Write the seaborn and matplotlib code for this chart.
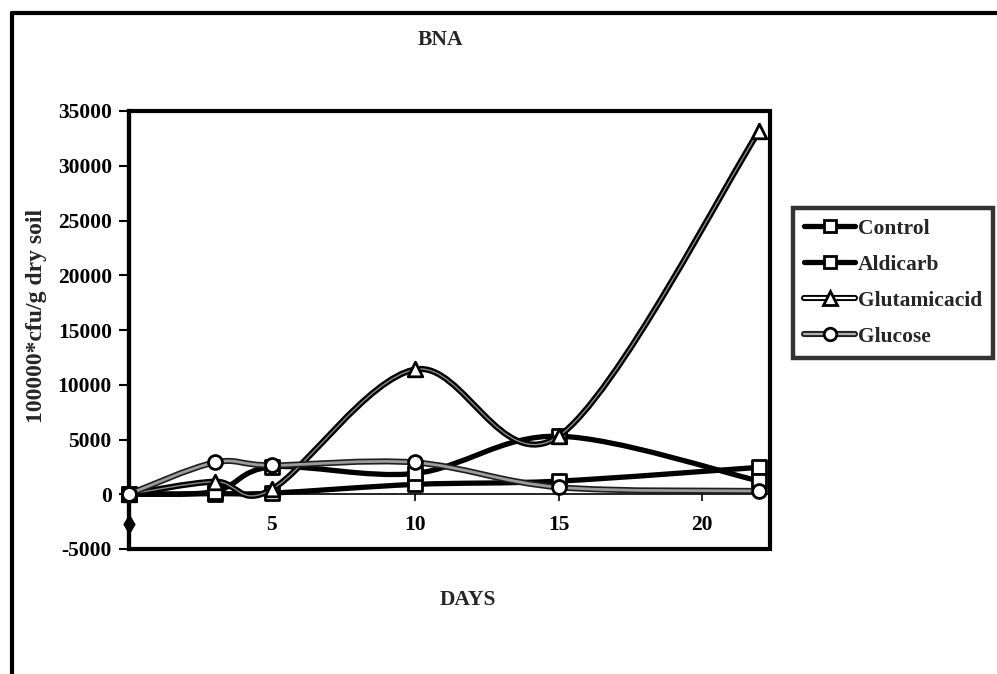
import numpy as np
import pandas as pd
import matplotlib
matplotlib.use("Agg")
import matplotlib.pyplot as plt
import seaborn as sns
from matplotlib.path import Path
from matplotlib.patches import PathPatch, Rectangle
from matplotlib.lines import Line2D
from matplotlib.legend_handler import HandlerTuple

# ---------------- data ----------------
days = [0, 3, 5, 10, 15, 22]
control = [0, 50, 100, 900, 1200, 2460]
aldicarb = [0, 250, 2500, 1900, 5300, 1200]
glutamic_acid = [0, 1150, 450, 11400, 5300, 33200]
glucose = [0, 2900, 2640, 2900, 640, 300]
series_names = ["Control", "Aldicarb", "Glutamicacid", "Glucose"]
stray_day = [0]
stray_value = [-2700]
y_ticks = [-5000, 0, 5000, 10000, 15000, 20000, 25000, 30000, 35000]
x_ticks = [5, 10, 15, 20]
title = "BNA"
x_label = "DAYS"
y_label = "100000*cfu/g dry soil"

sns.set_theme(style="white")
plt.rcParams["font.family"] = ["Liberation Serif", "DejaVu Serif"]
plt.rcParams["font.weight"] = "bold"

FS = 15.5

df = pd.DataFrame({"day": days * 4,
                   "value": control + aldicarb + glutamic_acid + glucose,
                   "series": sum([[n] * len(days) for n in series_names], [])})

styles = {
    "Control":      dict(outer="black", olw=3.8, inner=None, leg_inner=None, ilw=0,
                         marker="s", ms=9.5),
    "Aldicarb":     dict(outer="black", olw=3.8, inner=None, leg_inner=None, ilw=0,
                         marker="s", ms=9.5),
    "Glutamicacid": dict(outer="black", olw=4.4, inner="#8a8a8a", leg_inner="white", ilw=1.0,
                         marker="^", ms=10.5),
    "Glucose":      dict(outer="#1e1e1e", olw=4.4, inner="#9c9c9c", leg_inner="#b0b0b0", ilw=2.0,
                         marker="o", ms=10),
}


def smooth_path(xs, ys):
    pts = np.column_stack([xs, ys]).astype(float)
    n = len(pts)
    verts = [pts[0]]
    codes = [Path.MOVETO]
    for i in range(n - 1):
        p0 = pts[i - 1] if i > 0 else pts[i]
        p1 = pts[i]
        p2 = pts[i + 1]
        p3 = pts[i + 2] if i + 2 < n else pts[i + 1]
        c1 = p1 + (p2 - p0) / 6.0
        c2 = p2 - (p3 - p1) / 6.0
        verts += [c1, c2, p2]
        codes += [Path.CURVE4] * 3
    return Path(verts, codes)


W, H = 997, 674
fig = plt.figure(figsize=(W / 100, H / 100), dpi=100)
fig.patch.set_facecolor("white")

# outer chart frame (only top and left visible in the reference)
fig.add_artist(Line2D([12 / W, 1.0], [1 - 13 / H, 1 - 13 / H], transform=fig.transFigure,
                      color="black", lw=3))
fig.add_artist(Line2D([12 / W, 12 / W], [1 - 13 / H, 0.0], transform=fig.transFigure,
                      color="black", lw=3))

ax = fig.add_axes([128.5 / W, 1 - 549 / H, (770 - 128.5) / W, (549 - 111) / H])
ax.set_facecolor("white")

handles = []
for k, name in enumerate(series_names):
    st = styles[name]
    sub = df[df["series"] == name]
    path = smooth_path(sub["day"].values, sub["value"].values)
    ax.add_patch(PathPatch(path, fill=False, edgecolor=st["outer"], lw=st["olw"],
                           capstyle="round", joinstyle="round", zorder=2 + 2 * k))
    if st["inner"]:
        ax.add_patch(PathPatch(path, fill=False, edgecolor=st["inner"], lw=st["ilw"],
                               zorder=2.1 + 2 * k))
    sns.scatterplot(data=sub, x="day", y="value", marker=st["marker"], s=st["ms"] ** 2,
                    color="white", edgecolor="black", linewidth=2.0, ax=ax,
                    zorder=3 + 2 * k, clip_on=False, legend=False)
    parts = [Line2D([], [], color=st["outer"], lw=st["olw"])]
    if st["leg_inner"]:
        parts.append(Line2D([], [], color=st["leg_inner"], lw=1.6))
    parts.append(Line2D([], [], ls="none", marker=st["marker"], ms=st["ms"] * 0.9,
                        mfc="white", mec="black", mew=2.0))
    handles.append(tuple(parts))

sns.scatterplot(x=stray_day, y=stray_value, marker="d", s=90, color="black",
                edgecolor="black", ax=ax, zorder=20, clip_on=False, legend=False)

ax.set_xlim(0, 22.37)
ax.set_ylim(-5000, 35000)
ax.set_xticks(x_ticks)
ax.set_xticklabels([str(t) for t in x_ticks])
ax.set_yticks(y_ticks)
ax.set_yticklabels([str(t) for t in y_ticks])
ax.set_xlabel("")
ax.set_ylabel("")

for s in ["top", "right"]:
    ax.spines[s].set_visible(False)
ax.spines["left"].set_linewidth(3)
ax.spines["left"].set_color("black")
ax.spines["bottom"].set_position(("data", 0))
ax.spines["bottom"].set_linewidth(1.2)
ax.spines["bottom"].set_color("black")
ax.spines["bottom"].set_zorder(1)
ax.add_patch(Rectangle((0, 0), 1, 1, transform=ax.transAxes, fill=False,
                       edgecolor="black", lw=3, zorder=1, clip_on=False))

ax.tick_params(axis="y", direction="out", length=7, width=1.5, colors="black",
               labelsize=FS, pad=5, left=True)
ax.tick_params(axis="x", direction="out", length=5, width=1.2, colors="black",
               labelsize=FS, pad=10, bottom=True)
for lab in ax.get_xticklabels() + ax.get_yticklabels():
    lab.set_fontweight("bold")

fig.text(440 / W, 1 - 40 / H, title, ha="center", va="center", fontsize=FS,
         fontweight="bold")
fig.text(468 / W, 1 - 600 / H, x_label, ha="center", va="center", fontsize=FS,
         fontweight="bold")
fig.text(37 / W, 1 - 316 / H, y_label, ha="center", va="center", rotation=90,
         fontsize=17, fontweight="bold")

leg = fig.legend(handles, series_names, handler_map={tuple: HandlerTuple(ndivide=1)},
                 loc="upper left", bbox_to_anchor=(793 / W, 1 - 208 / H),
                 bbox_transform=fig.transFigure, frameon=True, fancybox=False,
                 edgecolor="black", fontsize=15.5, handlelength=2.4, handletextpad=0.1,
                 labelspacing=0.74, borderpad=0.5, borderaxespad=0)
leg.get_frame().set_linewidth(3.2)
for t in leg.get_texts():
    t.set_fontweight("bold")

fig.savefig("out.png", dpi=100, facecolor="white")
